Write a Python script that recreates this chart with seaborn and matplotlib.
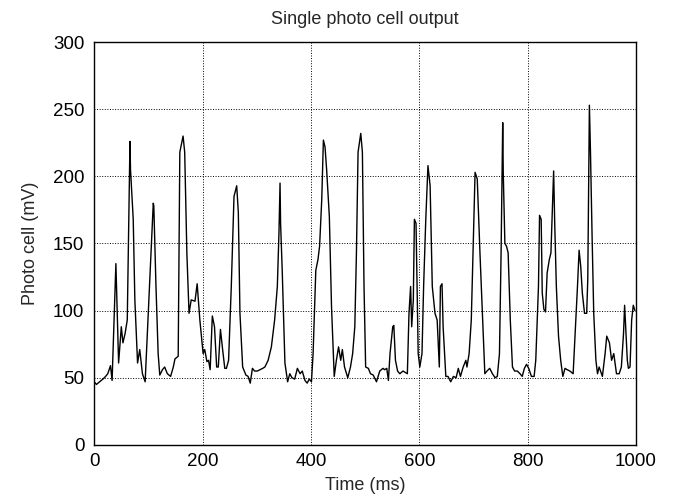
import matplotlib
matplotlib.use('Agg')
import matplotlib.pyplot as plt
import seaborn as sns
import pandas as pd

# vertices: time (ms) and photo cell output (mV)
time_ms = [0, 4, 10, 16, 21, 25, 30, 33, 40, 45, 50, 53, 57, 61, 66, 67, 72, 75, 80, 84,
           89, 94, 102, 109, 110, 114, 118, 121, 126, 130, 135, 141, 146, 149, 155, 158, 164, 167, 171, 175,
           179, 186, 190, 195, 201, 204, 208, 211, 214, 218, 222, 226, 229, 233, 237, 241, 244, 248, 253, 258,
           263, 266, 269, 274, 280, 284, 288, 292, 296, 301, 306, 311, 315, 321, 327, 333, 338, 341, 343, 344,
           347, 352, 357, 361, 365, 370, 375, 380, 384, 389, 393, 397, 401, 404, 409, 413, 416, 420, 423, 426,
           429, 434, 438, 443, 447, 451, 455, 458, 462, 468, 473, 477, 481, 484, 487, 492, 495, 498, 501, 506,
           510, 515, 521, 527, 533, 536, 540, 543, 546, 551, 553, 556, 560, 564, 570, 578, 581, 584, 586, 589,
           591, 594, 596, 598, 601, 605, 608, 612, 616, 620, 624, 629, 633, 637, 639, 642, 644, 649, 653, 658,
           663, 668, 672, 676, 681, 686, 688, 692, 696, 700, 703, 707, 712, 716, 721, 725, 730, 735, 740, 744,
           748, 751, 754, 755, 758, 761, 764, 768, 772, 776, 781, 786, 790, 794, 798, 802, 807, 812, 815, 820,
           822, 825, 827, 830, 833, 836, 840, 843, 846, 848, 850, 853, 857, 861, 865, 869, 873, 878, 884, 889,
           892, 895, 898, 901, 905, 909, 911, 914, 916, 919, 922, 926, 929, 932, 938, 943, 946, 951, 955, 959,
           964, 969, 973, 977, 979, 981, 984, 986, 989, 992, 995, 998]
output_mv = [47, 45, 47, 49, 51, 53, 59, 48, 135, 61, 88, 76, 83, 93, 226, 205, 168, 108, 61, 71,
             53, 47, 118, 180, 178, 118, 68, 52, 56, 58, 53, 51, 58, 64, 66, 218, 230, 218, 143, 98,
             108, 107, 120, 93, 68, 71, 62, 63, 56, 96, 88, 58, 58, 86, 71, 57, 57, 63, 118, 185,
             193, 173, 98, 58, 52, 51, 46, 57, 55, 55, 56, 57, 58, 63, 73, 93, 118, 158, 195, 165,
             130, 61, 47, 53, 50, 49, 57, 53, 55, 48, 46, 49, 47, 68, 130, 138, 148, 183, 227, 222,
             205, 170, 103, 51, 63, 73, 63, 71, 58, 50, 58, 68, 88, 143, 218, 232, 218, 118, 58, 57,
             53, 52, 47, 55, 57, 56, 57, 48, 68, 88, 89, 63, 55, 53, 55, 53, 98, 118, 88, 108,
             168, 165, 118, 68, 58, 68, 118, 168, 208, 193, 118, 98, 93, 58, 118, 120, 88, 51, 51, 47,
             51, 50, 57, 51, 58, 63, 58, 68, 93, 155, 203, 198, 143, 103, 53, 55, 57, 53, 50, 51,
             68, 143, 240, 203, 150, 148, 143, 93, 58, 55, 55, 53, 51, 57, 60, 57, 51, 51, 63, 118,
             171, 168, 113, 101, 99, 128, 138, 143, 180, 204, 165, 118, 81, 63, 51, 57, 56, 55, 53, 93,
             118, 145, 133, 113, 98, 98, 123, 253, 218, 155, 98, 63, 53, 58, 51, 68, 81, 76, 63, 68,
             53, 53, 58, 83, 104, 88, 63, 57, 58, 93, 104, 100]

x_ticks = [0, 200, 400, 600, 800, 1000]
y_ticks = [0, 50, 100, 150, 200, 250, 300]

df = pd.DataFrame({'time': time_ms, 'mv': output_mv})

sns.set_style('white')
plt.rcParams['font.family'] = ['Liberation Sans', 'DejaVu Sans']

fig = plt.figure(figsize=(6.73, 5.01), dpi=100)
ax = fig.add_axes([0.140, 0.112, 0.805, 0.804])

sns.lineplot(data=df, x='time', y='mv', color='black', linewidth=1.0, ax=ax)

ax.set_xlim(0, 1000)
ax.set_ylim(0, 300)
ax.set_xticks(x_ticks)
ax.set_yticks(y_ticks)
ax.grid(True, linestyle=':', color='black', linewidth=0.7)
ax.tick_params(direction='in', length=4, labelsize=13.5, color='black', labelcolor='black')
ax.tick_params(axis='y', pad=7)
ax.tick_params(axis='x', pad=6)
for s in ax.spines.values():
    s.set_color('black')
    s.set_linewidth(1.0)

ax.set_title('Single photo cell output', fontsize=13, pad=13)
ax.set_xlabel('Time (ms)', fontsize=13, labelpad=5)
ax.set_ylabel('Photo cell (mV)', fontsize=13, labelpad=10)

fig.savefig('out.png', dpi=100, facecolor='white')
